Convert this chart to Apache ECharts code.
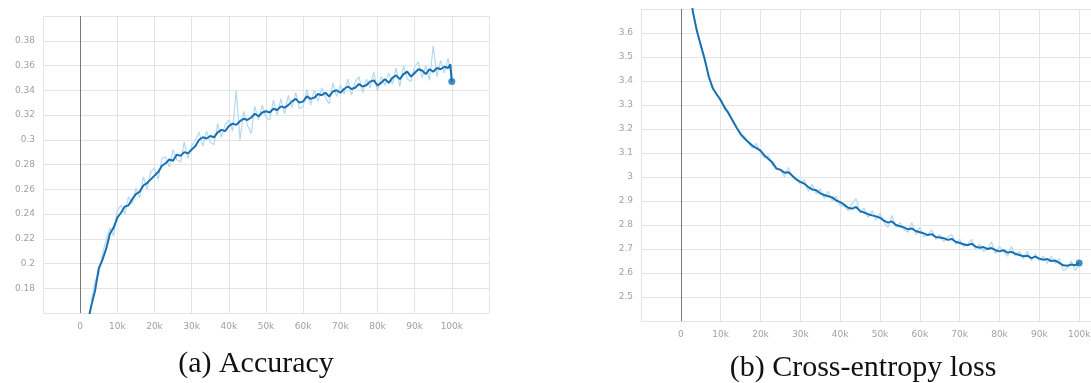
<!DOCTYPE html>
<html>
<head>
<meta charset="utf-8">
<script src="https://cdn.jsdelivr.net/npm/echarts@6/dist/echarts.min.js"></script>
<style>
html,body{margin:0;padding:0;background:#fff;overflow:hidden;width:1091px;height:383px;}
#c{width:1130px;height:383px;}
</style>
</head>
<body>
<div id="c"></div>
<script>
// ---- Data (steps in thousands) ----
const accSmoothSteps = [2.5,3,4,5,6,7,8,9,10,11,12,13,14,15,16,17,18,19,20,21,22,23,24,25,26,27,28,29,30,31,32,33,34,35,36,37,38,39,40,41,42,43,44,45,46,47,48,49,50,51,52,53,54,55,56,57,58,59,60,61,62,63,64,65,66,67,68,69,70,71,72,73,74,75,76,77,78,79,80,81,82,83,84,85,86,87,88,89,90,91,92,93,94,95,96,97,98,99,99.6,100];
const accSmooth = [0.159,0.166,0.178,0.196,0.203,0.212,0.224,0.229,0.237,0.241,0.246,0.247,0.252,0.256,0.258,0.263,0.265,0.268,0.271,0.274,0.279,0.281,0.284,0.283,0.288,0.287,0.290,0.289,0.292,0.295,0.300,0.302,0.301,0.303,0.302,0.306,0.308,0.307,0.311,0.313,0.312,0.315,0.317,0.316,0.318,0.321,0.319,0.322,0.323,0.322,0.325,0.324,0.327,0.326,0.328,0.331,0.333,0.330,0.331,0.335,0.333,0.334,0.337,0.336,0.338,0.335,0.339,0.340,0.338,0.341,0.343,0.341,0.342,0.345,0.343,0.344,0.347,0.348,0.344,0.346,0.349,0.346,0.350,0.352,0.349,0.353,0.355,0.351,0.354,0.357,0.356,0.353,0.357,0.355,0.358,0.357,0.359,0.358,0.361,0.347];
const accRawSteps = [3,4,5,6,7,8,9,10,11,12,13,14,15,16,17,18,19,20,21,22,23,24,25,26,27,28,29,30,31,32,33,34,35,36,37,38,39,40,41,42,43,44,45,46,47,48,49,50,51,52,53,54,55,56,57,58,59,60,61,62,63,64,65,66,67,68,69,70,71,72,73,74,75,76,77,78,79,80,81,82,83,84,85,86,87,88,89,90,91,92,93,94,95,96,97,98,99,100];
const accRaw = [0.170,0.186,0.191,0.208,0.219,0.229,0.222,0.243,0.247,0.240,0.254,0.248,0.261,0.253,0.270,0.260,0.274,0.277,0.268,0.285,0.286,0.278,0.292,0.284,0.282,0.298,0.285,0.295,0.300,0.306,0.295,0.307,0.298,0.296,0.313,0.302,0.312,0.316,0.307,0.340,0.300,0.323,0.312,0.305,0.327,0.316,0.328,0.318,0.316,0.332,0.320,0.333,0.321,0.336,0.326,0.338,0.325,0.327,0.341,0.328,0.340,0.331,0.342,0.334,0.329,0.346,0.335,0.344,0.337,0.349,0.336,0.347,0.351,0.338,0.349,0.342,0.355,0.339,0.351,0.344,0.354,0.345,0.358,0.343,0.360,0.349,0.347,0.359,0.363,0.350,0.360,0.348,0.376,0.351,0.364,0.354,0.366,0.347];
const lossSmoothSteps = [2.8,3,4,5,6,7,8,9,10,11,12,13,14,15,16,17,18,19,20,21,22,23,24,25,26,27,28,29,30,31,32,33,34,35,36,37,38,39,40,41,42,43,44,45,46,47,48,49,50,51,52,53,54,55,56,57,58,59,60,61,62,63,64,65,66,67,68,69,70,71,72,73,74,75,76,77,78,79,80,81,82,83,84,85,86,87,88,89,90,91,92,93,94,95,96,97,98,99,100];
const lossSmooth = [3.72,3.69,3.61,3.55,3.49,3.42,3.37,3.345,3.32,3.29,3.265,3.235,3.205,3.18,3.16,3.145,3.13,3.12,3.11,3.09,3.075,3.06,3.035,3.03,3.018,3.02,3.005,2.99,2.98,2.972,2.958,2.948,2.945,2.932,2.925,2.92,2.915,2.902,2.895,2.885,2.872,2.868,2.875,2.858,2.852,2.845,2.84,2.836,2.83,2.818,2.81,2.815,2.8,2.795,2.79,2.782,2.785,2.775,2.77,2.765,2.758,2.762,2.75,2.748,2.745,2.738,2.742,2.73,2.725,2.72,2.716,2.722,2.71,2.705,2.708,2.7,2.704,2.695,2.69,2.695,2.685,2.688,2.68,2.675,2.67,2.672,2.662,2.668,2.66,2.655,2.658,2.65,2.652,2.642,2.632,2.63,2.635,2.632,2.642];
const lossRawSteps = [3,4,5,6,7,8,9,10,11,12,13,14,15,16,17,18,19,20,21,22,23,24,25,26,27,28,29,30,31,32,33,34,35,36,37,38,39,40,41,42,43,44,45,46,47,48,49,50,51,52,53,54,55,56,57,58,59,60,61,62,63,64,65,66,67,68,69,70,71,72,73,74,75,76,77,78,79,80,81,82,83,84,85,86,87,88,89,90,91,92,93,94,95,96,97,98,99,100];
const lossRaw = [3.69,3.62,3.54,3.50,3.41,3.38,3.34,3.33,3.28,3.27,3.23,3.21,3.17,3.17,3.14,3.12,3.14,3.10,3.08,3.09,3.05,3.04,3.03,3.00,3.04,3.00,2.99,2.97,2.99,2.94,2.97,2.93,2.95,2.91,2.94,2.90,2.92,2.88,2.88,2.86,2.89,2.91,2.85,2.87,2.83,2.86,2.82,2.85,2.81,2.79,2.84,2.79,2.81,2.78,2.77,2.81,2.76,2.79,2.75,2.76,2.78,2.74,2.76,2.73,2.75,2.76,2.72,2.74,2.71,2.72,2.74,2.70,2.72,2.69,2.70,2.73,2.68,2.71,2.69,2.67,2.71,2.67,2.69,2.66,2.69,2.65,2.68,2.65,2.67,2.64,2.67,2.64,2.66,2.61,2.62,2.65,2.61,2.64];

// ---- Axis ticks ----
const xMin = -10000, xMax = 110000, xStep = 10000;
const accMin = 0.16, accMax = 0.40, accStep = 0.02;
const lossMin = 2.4, lossMax = 3.7, lossStep = 0.1;
const captions = ['(a) Accuracy', '(b) Cross-entropy loss'];

const DARK = '#1870b0', LIGHT = '#b3d9f2';
const pairs = (s, v) => s.map((k, i) => [k * 1000, v[i]]);

function xAxis(gi) {
  return {
    type: 'value', gridIndex: gi, min: xMin, max: xMax, interval: xStep,
    axisLine: {show: false}, axisTick: {show: false},
    splitLine: {show: true, lineStyle: {color: '#e4e4e4', width: 1}},
    axisLabel: {
      color: '#a0a0a0', fontSize: 9, fontFamily: 'DejaVu Sans', margin: 9,
      formatter: v => (v < 0 || v > 100000) ? '' : (v === 0 ? '0' : (v / 1000) + 'k')
    }
  };
}
function yAxis(gi, mn, mx, st, dec) {
  return {
    type: 'value', gridIndex: gi, min: mn, max: mx, interval: st,
    axisLine: {show: false}, axisTick: {show: false},
    splitLine: {show: true, lineStyle: {color: '#e4e4e4', width: 1}},
    axisLabel: {
      color: '#a0a0a0', fontSize: 9, fontFamily: 'DejaVu Sans', margin: 8,
      formatter: v => {
        const r = parseFloat(v.toFixed(dec));
        if (Math.abs(r - mn) < 1e-9 || Math.abs(r - mx) < 1e-9) return '';
        return String(r);
      }
    }
  };
}
function zeroLine() {
  return {silent: true, symbol: 'none', label: {show: false},
    lineStyle: {color: '#7a7a7a', width: 1, type: 'solid'}, data: [{xAxis: 0}]};
}

const chart = echarts.init(document.getElementById('c'), null, {renderer: 'canvas'});
chart.setOption({
  animation: false,
  grid: [
    {left: 43, top: 16, width: 446, height: 297, outerBoundsMode: 'none'},
    {left: 641, top: 9, width: 478, height: 312, outerBoundsMode: 'none'}
  ],
  xAxis: [xAxis(0), xAxis(1)],
  yAxis: [yAxis(0, accMin, accMax, accStep, 2), yAxis(1, lossMin, lossMax, lossStep, 1)],
  title: [
    {text: captions[0], left: 251, top: 344, textAlign: 'center', padding: 5,
     textStyle: {fontFamily: 'Liberation Serif', fontSize: 30, fontWeight: 'normal', color: '#111'}},
    {text: captions[1], left: 858, top: 348, textAlign: 'center', padding: 5,
     textStyle: {fontFamily: 'Liberation Serif', fontSize: 30, fontWeight: 'normal', color: '#111'}}
  ],
  series: [
    {type: 'line', xAxisIndex: 0, yAxisIndex: 0, data: pairs(accRawSteps, accRaw), showSymbol: false,
     lineStyle: {color: LIGHT, width: 1.2}, markLine: zeroLine(), z: 2},
    {type: 'line', xAxisIndex: 0, yAxisIndex: 0, data: pairs(accSmoothSteps, accSmooth), showSymbol: false,
     lineStyle: {color: DARK, width: 2}, z: 3},
    {type: 'scatter', xAxisIndex: 0, yAxisIndex: 0, data: [[accSmoothSteps[accSmoothSteps.length-1]*1000, accSmooth[accSmooth.length-1]]],
     symbolSize: 7, itemStyle: {color: DARK}, z: 4},
    {type: 'line', xAxisIndex: 1, yAxisIndex: 1, data: pairs(lossRawSteps, lossRaw), showSymbol: false,
     lineStyle: {color: LIGHT, width: 1.2}, markLine: zeroLine(), z: 2},
    {type: 'line', xAxisIndex: 1, yAxisIndex: 1, data: pairs(lossSmoothSteps, lossSmooth), showSymbol: false,
     lineStyle: {color: DARK, width: 2}, z: 3},
    {type: 'scatter', xAxisIndex: 1, yAxisIndex: 1, data: [[lossSmoothSteps[lossSmoothSteps.length-1]*1000, lossSmooth[lossSmooth.length-1]]],
     symbolSize: 7, itemStyle: {color: DARK}, z: 4}
  ]
});
</script>
</body>
</html>
